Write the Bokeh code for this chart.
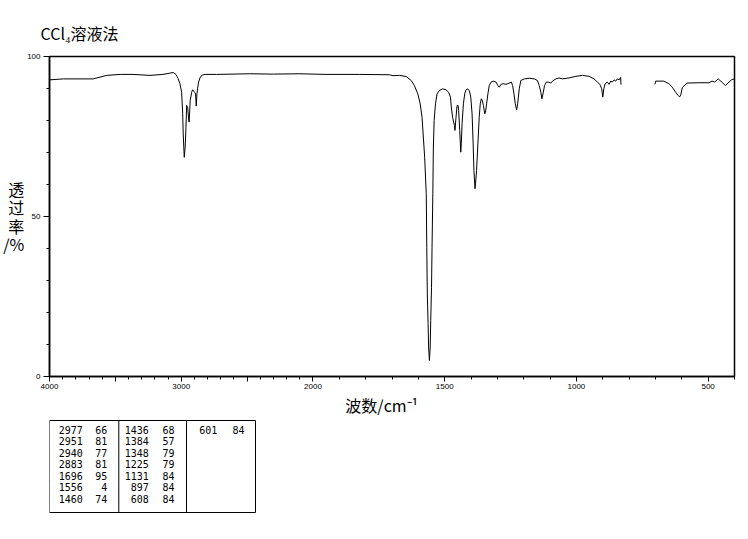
import numpy as np
from bokeh.plotting import figure
from bokeh.models import FixedTicker, Range1d, ColumnDataSource
from bokeh.layouts import column
from bokeh.embed import file_html
from bokeh.resources import INLINE
from bokeh.core.properties import value

# ---------------- data ----------------
title_text = "CCl\u2084溶液法"
x_label = "波数/cm\u207b\u00b9"
y_label = "透\n过\n率\n/%"

x_major_wn = [4000, 3500, 3000, 2500, 2000, 1500, 1000, 500]
x_major_txt = ["4000", "", "3000", "", "2000", "1500", "1000", "500"]
y_major_vals = [0, 50, 100]
y_major_txt = ["0", "50", "100"]

spec_wn = [4000, 3894, 3669, 3565, 3464, 3366, 3237, 3139, 3086, 3061, 3048, 3040, 3023, 3010,
           2997, 2989, 2985, 2977, 2970, 2964, 2959, 2951, 2944, 2940, 2932, 2921, 2914, 2898,
           2891, 2886, 2881, 2876, 2868, 2858, 2845, 2820, 2732, 2480, 2300, 2100, 1950, 1822,
           1710, 1696, 1672, 1646, 1627, 1615, 1602, 1593, 1586, 1581, 1576, 1570, 1568, 1566,
           1563, 1561, 1558, 1555, 1553, 1550, 1548, 1545, 1543, 1540, 1535, 1529, 1520, 1508,
           1495, 1485, 1478, 1475, 1470, 1463, 1461, 1457, 1453, 1449, 1447, 1443, 1439, 1437,
           1434, 1429, 1424, 1419, 1413, 1406, 1401, 1396, 1392, 1389, 1385, 1383, 1379, 1374,
           1369, 1365, 1361, 1357, 1353, 1348, 1345, 1341, 1336, 1331, 1324, 1316, 1305, 1298,
           1293, 1286, 1278, 1267, 1255, 1247, 1242, 1237, 1232, 1227, 1223, 1217, 1211, 1198,
           1179, 1160, 1148, 1141, 1135, 1131, 1127, 1121, 1114, 1106, 1097, 1091, 1078, 1066,
           1053, 1028, 1002, 977, 952, 933, 920, 911, 904, 900, 896, 891, 883, 876, 870, 864,
           857, 851, 845, 838, 832, 831, float("nan"),
           702, 699, 668, 649, 636, 623, 614, 608, 604, 598, 580, 535, 497, 485, 475, 462, 448,
           434, 421, 410, 400]
spec_T = [92.7, 93.0, 93.0, 94.1, 94.4, 94.4, 94.1, 94.4, 94.8, 95.0, 94.6, 94.4, 93.0, 91.5,
          88.8, 82.1, 75.8, 68.5, 71.7, 77.9, 84.7, 84.0, 80.5, 79.5, 86.2, 88.8, 89.6, 88.8,
          88.3, 84.5, 88.3, 89.9, 92.0, 93.3, 94.1, 94.4, 94.4, 94.6, 94.5, 94.6, 94.4, 94.4,
          94.3, 94.0, 94.1, 93.75, 92.5, 90.9, 88.3, 85.2, 81.0, 74.8, 68.5, 57.1, 40.4, 25.8,
          16.5, 9.2, 5.0, 9.2, 17.5, 27.9, 40.4, 57.1, 71.7, 80.0, 85.2, 88.3, 89.4, 89.9,
          89.6, 88.8, 87.3, 84.2, 81.0, 78.4, 76.9, 81.0, 84.7, 84.7, 83.1, 76.9, 70.1, 72.7,
          79.0, 85.2, 88.3, 89.6, 89.9, 89.2, 87.3, 82.1, 72.7, 64.4, 58.7, 60.2, 64.4, 72.7,
          81.0, 85.2, 86.8, 86.2, 84.7, 82.1, 82.6, 85.2, 88.3, 90.9, 92.0, 92.3, 92.0, 90.9,
          90.4, 91.3, 91.5, 91.3, 91.7, 92.0, 90.9, 88.3, 85.2, 83.3, 85.2, 89.9, 92.5, 93.0,
          93.2, 93.0, 92.5, 90.9, 88.8, 86.8, 88.3, 90.9, 92.0, 92.0, 91.7, 92.3, 93.0, 93.3,
          93.0, 93.3, 93.8, 94.1, 93.8, 93.0, 92.0, 91.3, 89.9, 87.3, 89.9, 91.5, 92.0, 91.3, 92.3, 92.0,
          92.7, 92.3, 93.0, 92.7, 93.5, 91.2, float("nan"),
          91.3, 92.3, 92.3, 91.5, 90.4, 88.8, 87.8, 87.4, 88.0, 90.3, 91.7, 91.8, 91.8, 92.3, 92.0, 93.0, 92.0,
          90.9, 92.0, 92.8, 93.0]

peak_col1_wn = [2977, 2951, 2940, 2883, 1696, 1556, 1460]
peak_col1_T = [66, 81, 77, 81, 95, 4, 74]
peak_col2_wn = [1436, 1384, 1348, 1225, 1131, 897, 608]
peak_col2_T = [68, 57, 79, 79, 84, 84, 84]
peak_col3_wn = [601]
peak_col3_T = [84]


def xmap(wn):
    """Wavenumber -> axis coordinate (scale doubles below 2000 cm-1)."""
    wn = np.asarray(wn, dtype=float)
    return np.where(wn >= 2000, 4000 - wn, 2000 + 2 * (2000 - wn))


cjk = "Noto Sans CJK SC"

# ---------------- main figure ----------------
W, H = 745, 393
ML, MR, MT, MB = 49, 11, 56, 17
p = figure(width=W, height=H, x_range=Range1d(0, 5200), y_range=Range1d(0, 100),
           output_backend="svg", toolbar_location=None,
           min_border_left=ML, min_border_right=MR, min_border_top=MT, min_border_bottom=MB)
p.grid.visible = False
p.outline_line_color = "black"
p.outline_line_width = 1.5
p.background_fill_color = "white"
p.border_fill_color = "white"

p.title.text = title_text
p.title.align = "left"
p.title.offset = -9
p.title.standoff = 23
p.title.text_font = cjk
p.title.text_font_size = "16px"
p.title.text_font_style = "normal"
p.title.text_color = "black"

src = ColumnDataSource(dict(x=xmap(spec_wn), y=np.asarray(spec_T, dtype=float)))
p.line("x", "y", source=src, line_color="black", line_width=1)

xt = [int(v) for v in xmap(x_major_wn)]
xminor = [int(v) for v in xmap(list(range(4000, 399, -100)))]
p.xaxis.ticker = FixedTicker(ticks=xt, minor_ticks=xminor)
p.xaxis.major_label_overrides = {t: s for t, s in zip(xt, x_major_txt)}
p.yaxis.ticker = FixedTicker(ticks=y_major_vals, minor_ticks=list(range(0, 101, 10)))
p.yaxis.major_label_overrides = {t: s for t, s in zip(y_major_vals, y_major_txt)}

for ax in (p.xaxis[0], p.yaxis[0]):
    ax.axis_line_color = "black"
    ax.axis_line_width = 1.5
    ax.major_tick_line_color = "black"
    ax.minor_tick_line_color = "black"
    ax.major_tick_in = 0
    ax.minor_tick_in = 0
    ax.minor_tick_out = 3
    ax.major_label_text_font = "Liberation Sans"
    ax.major_label_text_font_size = "8px"
    ax.major_label_text_color = "black"
p.xaxis.major_tick_out = 5
p.yaxis.major_tick_out = 6
p.xaxis.major_label_standoff = 2
p.yaxis.major_label_standoff = 3

p.yaxis.axis_label = y_label
p.yaxis.axis_label_orientation = "horizontal"
p.yaxis.axis_label_standoff = 0
p.yaxis.axis_label_text_font = cjk
p.yaxis.axis_label_text_font_size = "16px"
p.yaxis.axis_label_text_font_style = "normal"
p.yaxis.axis_label_text_color = "black"
p.yaxis.axis_label_text_line_height = 0.76

# ---------------- x label + peak table (pixel coordinates) ----------------
TH = 128
y0 = H  # page y where this figure starts
t = figure(width=W, height=TH, x_range=Range1d(ML, W - MR), y_range=Range1d(TH, 0),
           output_backend="svg", toolbar_location=None,
           min_border_left=ML, min_border_right=MR, min_border_top=0, min_border_bottom=0)
t.axis.visible = False
t.grid.visible = False
t.outline_line_color = None
t.border_fill_color = "white"
t.background_fill_color = "white"

t.text(x=[381], y=[404 - y0], text=[x_label], text_align="center", text_baseline="middle",
       text_font=value(cjk), text_font_size="16px", text_color="black")

bx0, bx1, by0, by1 = 49, 255, 420 - y0, 512 - y0
t.multi_line(xs=[[bx0, bx1, bx1, bx0, bx0], [118.3, 118.3], [186, 186]],
             ys=[[by0, by0, by1, by1, by0], [by0, by1], [by0, by1]],
             line_color="black", line_width=1)

cols = [(peak_col1_wn, peak_col1_T, 82.3, 106.7),
        (peak_col2_wn, peak_col2_T, 148.3, 174),
        (peak_col3_wn, peak_col3_T, 216.7, 244)]
tx, ty, tt = [], [], []
for wns, ts, xw, xtv in cols:
    for i, (w, v) in enumerate(zip(wns, ts)):
        yy = 429 - y0 + 11.5 * i
        tx += [xw, xtv]
        ty += [yy, yy]
        tt += [str(w), str(v)]
t.text(x=tx, y=ty, text=tt, text_align="right", text_baseline="middle",
       text_font=value("DejaVu Sans Mono"), text_font_size="10px", text_color="black")

layout = column(p, t)
open("out.html", "w").write(file_html(layout, INLINE))
